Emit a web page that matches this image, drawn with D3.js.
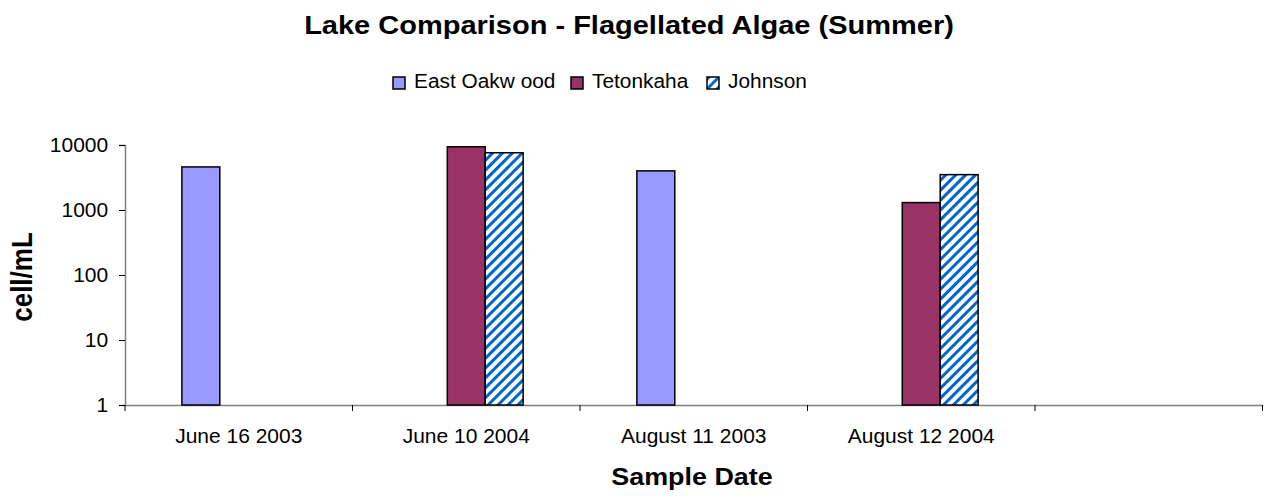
<!DOCTYPE html>
<html>
<head>
<meta charset="utf-8">
<script src="https://cdn.jsdelivr.net/npm/d3@7"></script>
<style>
body { margin: 0; background: #fff; }
svg text { font-family: "Liberation Sans", Arial, sans-serif; }
</style>
</head>
<body>
<svg id="chart"></svg>
<script>
var categories = ["June 16 2003", "June 10 2004", "August 11 2003", "August 12 2004", ""];
var seriesNames = ["East Oakw ood", "Tetonkaha", "Johnson"];
var eastOakwood = [4600, null, 4000, null, null];
var tetonkaha = [null, 9400, null, 1300, null];
var johnson = [null, 7600, null, 3500, null];
var yTicks = [1, 10, 100, 1000, 10000];

var width = 1268, height = 500;
var plotLeft = 125, plotRight = 1262.5, plotTop = 145, plotBottom = 405;
var colors = ["#9999ff", "#993366", "url(#stripes)"];

var svg = d3.select("#chart").attr("width", width).attr("height", height);

// striped fill for Johnson
var pat = svg.append("defs").append("pattern")
    .attr("id", "stripes")
    .attr("patternUnits", "userSpaceOnUse")
    .attr("width", 7).attr("height", 7)
    .attr("patternTransform", "rotate(45)");
pat.append("rect").attr("width", 7).attr("height", 7).attr("fill", "#fff");
pat.append("rect").attr("width", 3).attr("height", 7).attr("fill", "#0066cc");

var x = d3.scaleBand().domain(d3.range(categories.length)).range([plotLeft, plotRight]);
var xs = d3.scaleBand().domain(d3.range(seriesNames.length))
    .range([0, x.bandwidth()]).paddingOuter(1.5);
var y = d3.scaleLog().domain([1, 10000]).range([plotBottom, plotTop]);

// title
svg.append("text")
    .attr("transform", "translate(629,34) scale(1.16,1)")
    .attr("text-anchor", "middle")
    .style("font-size", "25px").style("font-weight", "bold")
    .text("Lake Comparison - Flagellated Algae (Summer)");

// legend
var legendX = [393, 571, 707];
var lg = svg.selectAll(".legend").data(seriesNames).enter().append("g")
    .attr("class", "legend")
    .attr("transform", function(d, i) { return "translate(" + legendX[i] + ",77)"; });
lg.append("rect")
    .attr("width", 12).attr("height", 12)
    .attr("fill", function(d, i) { return colors[i]; })
    .attr("stroke", "#000").attr("stroke-width", 1.5);
lg.append("text")
    .attr("transform", "translate(21,11) scale(1.07,1)")
    .style("font-size", "19.5px")
    .text(function(d) { return d; });

// y axis
var yAxis = svg.append("g")
    .attr("transform", "translate(" + plotLeft + ",0)")
    .call(d3.axisLeft(y).tickValues(yTicks).tickFormat(d3.format("d")).tickSize(6).tickPadding(10));
yAxis.select(".domain").attr("stroke", "#808080").attr("stroke-width", 1.5);
yAxis.selectAll(".tick line").attr("stroke", "#000");
yAxis.selectAll(".tick text").style("font-size", "20px").attr("fill", "#000")
    .attr("transform", "scale(1.05,1)");

// x axis
var xAxis = svg.append("g")
    .attr("transform", "translate(0," + plotBottom + ")")
    .call(d3.axisBottom(x).tickSize(0).tickFormat(function(i) { return categories[i]; }));
xAxis.select(".domain").attr("stroke", "#808080").attr("stroke-width", 1.5);
xAxis.selectAll(".tick text").style("font-size", "20px").attr("fill", "#000")
    .attr("y", 38).attr("dy", "0").attr("transform", "scale(1.05,1)");
// category separators
svg.append("g").selectAll("line")
    .data(d3.range(categories.length + 1))
    .enter().append("line")
    .attr("x1", function(i) { return plotLeft + i * x.bandwidth(); })
    .attr("x2", function(i) { return plotLeft + i * x.bandwidth(); })
    .attr("y1", plotBottom).attr("y2", plotBottom + 6)
    .attr("stroke", "#000");

// bars
var allSeries = [eastOakwood, tetonkaha, johnson];
allSeries.forEach(function(vals, s) {
    svg.append("g").selectAll("rect")
        .data(vals.map(function(v, i) { return {i: i, v: v}; }).filter(function(d) { return d.v != null; }))
        .enter().append("rect")
        .attr("x", function(d) { return x(d.i) + xs(s); })
        .attr("y", function(d) { return y(d.v); })
        .attr("width", xs.bandwidth())
        .attr("height", function(d) { return plotBottom - y(d.v); })
        .attr("fill", colors[s])
        .attr("stroke", "#000").attr("stroke-width", 1.5);
});

// axis titles
svg.append("text")
    .attr("transform", "translate(32,277) scale(1.1,1) rotate(-90)")
    .attr("text-anchor", "middle")
    .style("font-size", "26px").style("font-weight", "bold")
    .text("cell/mL");
svg.append("text")
    .attr("transform", "translate(692,485) scale(1.12,1)")
    .attr("text-anchor", "middle")
    .style("font-size", "24px").style("font-weight", "bold")
    .text("Sample Date");
</script>
</body>
</html>
